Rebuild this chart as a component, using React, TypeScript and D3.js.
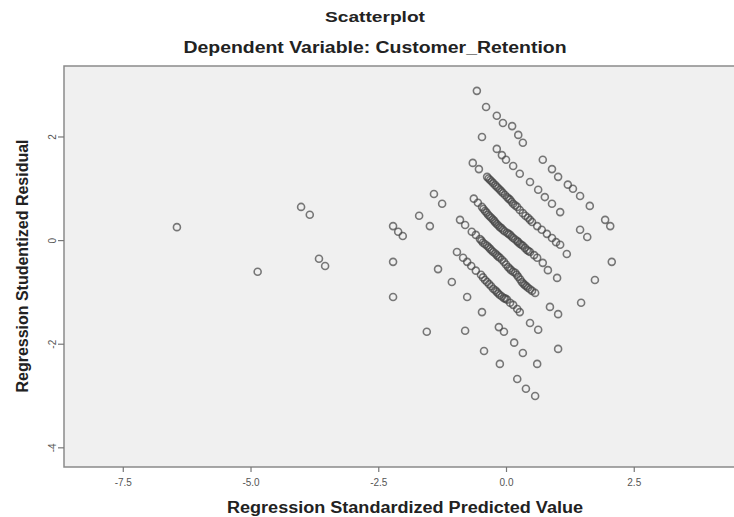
import React from 'react';
import * as d3 from 'd3';

const xTicks = [-7.5, -5, -2.5, 0, 2.5];
const xTickLabels = ['-7.5', '-5.0', '-2.5', '0.0', '2.5'];
const yTicks = [2, 0, -2, -4];
const yTickLabels = ['2', '0', '-2', '-4'];

// [standardized predicted, studentized residual]
const outliers = [
  [-6.45, 0.26], [-4.87, -0.6], [-4.02, 0.65], [-3.85, 0.5], [-3.67, -0.35], [-3.55, -0.49],
  [-2.22, 0.28], [-2.12, 0.17], [-2.03, 0.09], [-2.22, -0.41], [-2.22, -1.09],
  [-1.71, 0.48], [-1.5, 0.28], [-1.42, 0.9], [-1.26, 0.71], [-1.56, -1.76],
];
const topPoints = [[-0.58, 2.89], [-0.4, 2.58], [-0.48, 2.0]];
const band1 = [
  [-0.19, 2.41], [-0.07, 2.27], [0.11, 2.21], [0.23, 2.04], [0.32, 1.89], [0.71, 1.56], [0.89, 1.38],
  [1.01, 1.23], [1.2, 1.08], [1.3, 1.0], [1.44, 0.86], [1.63, 0.67], [1.93, 0.4], [2.03, 0.28],
];
const band2 = [
  [-0.19, 1.77], [-0.09, 1.65], [-0.01, 1.56], [0.13, 1.44], [0.26, 1.29], [0.46, 1.13], [0.62, 0.98],
  [0.75, 0.84], [0.89, 0.71], [1.05, 0.55], [1.44, 0.21], [1.58, 0.07], [2.06, -0.41],
];
const band3 = [
  [-0.66, 1.5], [-0.54, 1.38], [-0.38, 1.23], [-0.32, 1.17], [-0.26, 1.11], [-0.19, 1.04], [-0.13, 0.98],
  [-0.07, 0.92], [0.01, 0.84], [0.07, 0.79], [0.13, 0.71], [0.21, 0.65], [0.32, 0.53], [0.42, 0.44],
  [0.5, 0.36], [0.6, 0.28], [0.69, 0.21], [0.79, 0.13], [0.89, 0.05], [0.97, -0.03], [1.05, -0.08], [1.18, -0.26],
];
const band3Dense = [
  [-0.35, 1.2], [-0.29, 1.14], [-0.22, 1.07], [-0.16, 1.01], [-0.1, 0.95], [-0.03, 0.88], [0.04, 0.81],
  [0.1, 0.75], [0.17, 0.68], [0.26, 0.59], [0.37, 0.48], [0.46, 0.4],
];
const band4 = [
  [-0.64, 0.81], [-0.56, 0.73], [-0.48, 0.65], [-0.42, 0.57], [-0.36, 0.5], [-0.3, 0.44], [-0.24, 0.38],
  [-0.19, 0.32], [-0.13, 0.26], [-0.07, 0.21], [0.01, 0.15], [0.07, 0.11], [0.13, 0.05], [0.21, -0.01],
  [0.26, -0.06], [0.32, -0.1], [0.4, -0.18], [0.46, -0.22], [0.54, -0.28], [0.6, -0.33], [0.71, -0.43],
  [0.81, -0.57], [0.99, -0.72],
];
const band4Dense = [
  [-0.45, 0.61], [-0.39, 0.54], [-0.33, 0.47], [-0.27, 0.41], [-0.22, 0.35], [-0.16, 0.29], [-0.1, 0.24],
  [-0.04, 0.18], [0.04, 0.13], [0.1, 0.08], [0.17, 0.02], [0.23, -0.03], [0.29, -0.08], [0.36, -0.14], [0.43, -0.2],
];
const band5 = [
  [-0.91, 0.4], [-0.81, 0.3], [-0.68, 0.17], [-0.6, 0.11], [-0.52, 0.03], [-0.46, -0.04], [-0.38, -0.1],
  [-0.32, -0.16], [-0.26, -0.22], [-0.19, -0.28], [-0.13, -0.33], [-0.05, -0.41], [0.03, -0.51],
  [0.09, -0.57], [0.17, -0.62], [0.23, -0.7], [0.3, -0.8], [0.36, -0.86], [0.42, -0.91], [0.5, -0.97],
  [0.56, -1.01], [0.85, -1.28], [1.01, -1.42],
];
const band5Dense = [
  [-0.49, 0.0], [-0.42, -0.07], [-0.35, -0.13], [-0.29, -0.19], [-0.22, -0.25], [-0.16, -0.31], [-0.09, -0.37],
  [-0.01, -0.46], [0.06, -0.54], [0.13, -0.6], [0.2, -0.66], [0.27, -0.75], [0.33, -0.83], [0.39, -0.88], [0.46, -0.94],
];
const band6 = [
  [-0.97, -0.22], [-0.85, -0.33], [-0.77, -0.41], [-0.69, -0.49], [-0.6, -0.58], [-0.5, -0.66],
  [-0.42, -0.76], [-0.34, -0.84], [-0.26, -0.93], [-0.19, -0.99], [-0.13, -1.05], [-0.05, -1.11],
  [0.01, -1.14], [0.07, -1.2], [0.13, -1.24], [0.21, -1.32], [0.26, -1.38], [0.46, -1.59], [0.62, -1.72],
];
const band6Dense = [
  [-0.46, -0.71], [-0.38, -0.8], [-0.3, -0.88], [-0.22, -0.96], [-0.16, -1.02], [-0.09, -1.08], [-0.02, -1.12],
];
const band7 = [
  [-1.34, -0.55], [-1.07, -0.8], [-0.77, -1.09], [-0.48, -1.38], [-0.15, -1.67], [-0.05, -1.76],
  [0.15, -1.97], [0.32, -2.17],
];
const band8 = [[-0.81, -1.74], [-0.44, -2.13], [-0.13, -2.38], [0.21, -2.67], [0.38, -2.86], [0.56, -3.0]];
const otherPoints = [[0.6, -2.38], [1.01, -2.09], [1.46, -1.2], [1.73, -0.76]];

const width = 734;
const height = 517;
const plot = { left: 64, top: 66, right: 762, bottom: 467 };
const font = '"Liberation Sans", Arial, sans-serif';

export default function App() {
  const x = d3.scaleLinear().domain([-8.66, 5]).range([plot.left, plot.right]);
  const y = d3.scaleLinear().domain([-4.37, 3.37]).range([plot.bottom, plot.top]);

  const points = [
    ...outliers, ...topPoints, ...band1, ...band2, ...band3, ...band3Dense, ...band4, ...band4Dense,
    ...band5, ...band5Dense, ...band6, ...band6Dense, ...band7, ...band8, ...otherPoints,
  ];

  return (
    <div style={{ position: 'absolute', left: 0, top: 0 }}>
      <svg width={width} height={height} style={{ display: 'block', background: '#fff' }}>
        <text x={375} y={22} textAnchor="middle" fontFamily={font} fontWeight="bold" fontSize={15}
          textLength={100} lengthAdjust="spacingAndGlyphs" fill="#222">Scatterplot</text>
        <text x={375} y={53} textAnchor="middle" fontFamily={font} fontWeight="bold" fontSize={16}
          textLength={383} lengthAdjust="spacingAndGlyphs" fill="#222">Dependent Variable: Customer_Retention</text>

        <rect x={plot.left} y={plot.top} width={plot.right - plot.left} height={plot.bottom - plot.top}
          fill="#f0f0f0" stroke="#8a8a8a" strokeWidth={1.5} />

        {xTicks.map((t, i) => (
          <g key={'x' + i} transform={`translate(${x(t)},${plot.bottom})`}>
            <line y1={0} y2={5} stroke="#777" strokeWidth={1.2} />
            <text y={19} textAnchor="middle" fontFamily={font} fontSize={10} fill="#555">{xTickLabels[i]}</text>
          </g>
        ))}
        {yTicks.map((t, i) => (
          <g key={'y' + i} transform={`translate(${plot.left},${y(t)})`}>
            <line x1={-6} x2={0} stroke="#777" strokeWidth={1.2} />
            <text transform="translate(-12,0) rotate(-90)" textAnchor="middle" dominantBaseline="central"
              fontFamily={font} fontSize={10} fill="#555">{yTickLabels[i]}</text>
          </g>
        ))}

        <g fill="none" stroke="#474747" strokeOpacity={0.72} strokeWidth={1.6}>
          {points.map((d, i) => (
            <circle key={i} cx={x(d[0])} cy={y(d[1])} r={3.5} />
          ))}
        </g>

        <text x={405} y={513} textAnchor="middle" fontFamily={font} fontWeight="bold" fontSize={16}
          textLength={356} lengthAdjust="spacingAndGlyphs" fill="#222">Regression Standardized Predicted Value</text>
        <text transform={`translate(28,266) rotate(-90)`} textAnchor="middle" fontFamily={font} fontWeight="bold"
          fontSize={16} textLength={253} lengthAdjust="spacingAndGlyphs" fill="#222">Regression Studentized Residual</text>
      </svg>
    </div>
  );
}
